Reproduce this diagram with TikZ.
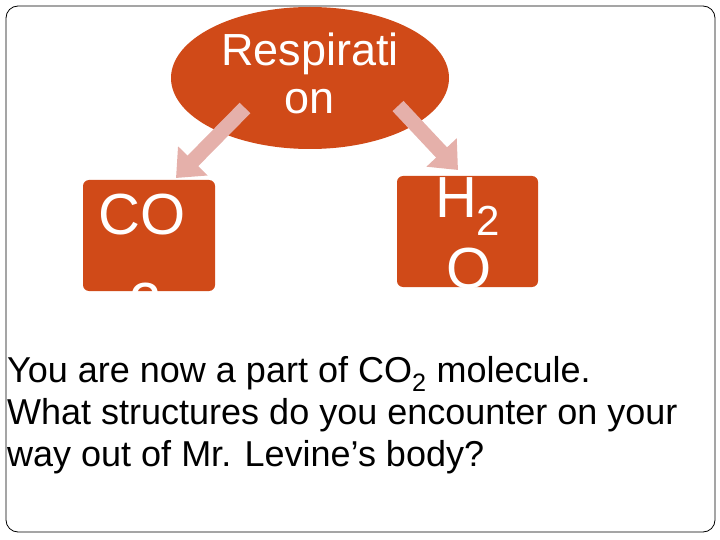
\documentclass[tikz,border=0pt]{standalone}
\usepackage{fontspec}
\setmainfont{Liberation Sans}
\usetikzlibrary{arrows.meta,shapes.geometric}
\definecolor{org}{RGB}{208,74,24}
\definecolor{pnk}{RGB}{229,176,170}
\begin{document}
\begin{tikzpicture}[x=1pt,y=-1pt,
  box/.style={fill=org,rounded corners=6pt,inner sep=0pt},
  wt/.style={text=white,inner sep=0pt,anchor=base},
  body/.style={anchor=base west,inner sep=0pt,font=\fontsize{36}{42}\selectfont},
  arr/.style={pnk,line width=15pt,-{Triangle[length=24pt,width=40pt]}}]
\useasboundingbox (0,0) rectangle (720,540);
\draw[rounded corners=12pt,line width=0.8pt] (6,6) rectangle (715,532);
\node[ellipse,fill=org,minimum width=278pt,minimum height=142pt,inner sep=0pt] (resp) at (310,78) {};
\node[wt,font=\fontsize{45}{50}\selectfont] (r1) at (310,66) {Respirati};
\node[wt,font=\fontsize{45}{50}\selectfont] (r2) at (310,114) {on};
\node[box,minimum width=132pt,minimum height=111pt] (co) at (149,235.5) {};
\node[box,minimum width=141pt,minimum height=111pt] (ho) at (467.5,231.5) {};
\coordinate (a1) at (245,108);
\coordinate (b1) at (176,178);
\coordinate (a2) at (398,106);
\coordinate (b2) at (458,170);
\draw[arr] (a1) -- (b1);
\draw[arr] (a2) -- (b2);
\begin{scope}
\clip[rounded corners=6pt] (83,180) rectangle (215,291);
\node[wt,font=\fontsize{58}{60}\selectfont] (c1) at (142,235) {CO};
\node[wt,font=\fontsize{58}{60}\selectfont] (c2) at (146,323) {2};
\end{scope}
\begin{scope}
\clip[rounded corners=6pt] (397,176) rectangle (538,287);
\node[wt,font=\fontsize{58}{60}\selectfont] (h1) at (456,218) {H};
\node[wt,font=\fontsize{42}{44}\selectfont] (h2) at (488,236) {2};
\node[wt,font=\fontsize{58}{60}\selectfont] (o1) at (469,288) {O};
\end{scope}
\node[body] (t1) at (7,382) {You are now a part of CO\textsubscript{2} molecule.};
\node[body] (t2) at (7,424) {What structures do you encounter on your};
\node[body] (t3) at (7,466) {way out of Mr. Levine’s body?};
\end{tikzpicture}
\end{document}
